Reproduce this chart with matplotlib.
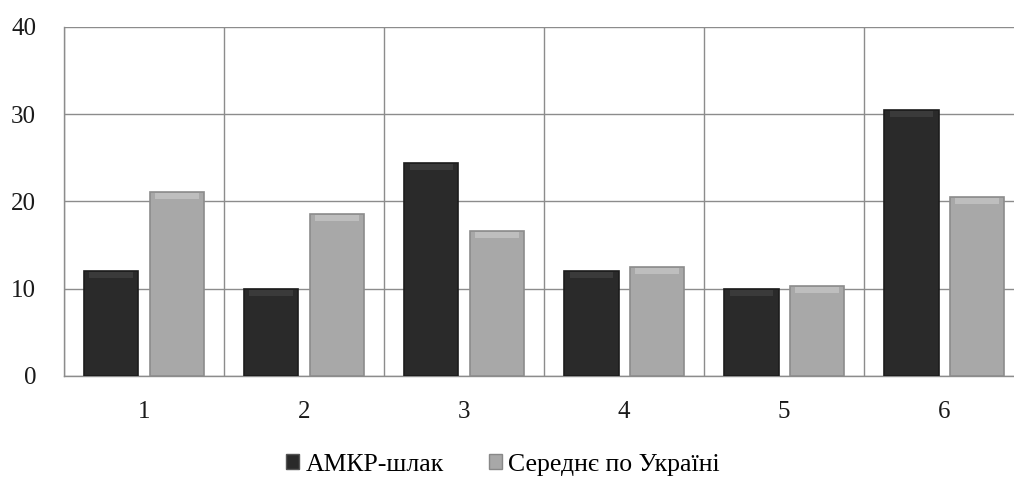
import numpy as np
import matplotlib.pyplot as plt
from matplotlib.patches import Patch

categories = ["1", "2", "3", "4", "5", "6"]
amkr_slag = [12.0, 10.0, 24.4, 12.0, 10.0, 30.5]
ukraine_avg = [21.1, 18.6, 16.6, 12.5, 10.3, 20.5]
series_names = ["АМКР-шлак", "Середнє по Україні"]
y_ticks = [0, 10, 20, 30, 40]

plt.rcParams["font.family"] = ["Liberation Serif", "DejaVu Serif"]

fig = plt.figure(figsize=(10.14, 4.82), dpi=100)
ax = fig.add_axes([0.0631, 0.22, 0.947, 0.724])

x = np.arange(len(categories))
width = 0.34
offset = 0.205

def bevel_bars(xpos, values, face, edge, top):
    bars = ax.bar(xpos, values, width, color=face, edgecolor=edge, linewidth=1.2, zorder=3)
    # soft band along the top for the bevelled look
    ax.bar(xpos, [0.7] * len(values), width * 0.8, bottom=np.array(values) - 0.8,
           color=top, linewidth=0, zorder=4)
    return bars

bevel_bars(x - offset, amkr_slag, "#2a2a2a", "#1c1c1c", "#3a3a3a")
bevel_bars(x + offset, ukraine_avg, "#a8a8a8", "#8c8c8c", "#bebebe")

ax.set_xlim(-0.5, len(categories) - 0.5)
ax.set_ylim(0, 40)
ax.set_yticks(y_ticks)
ax.set_xticks(x)
ax.set_xticklabels(categories)
ax.set_xticks(np.arange(len(categories) + 1) - 0.5, minor=True)

ax.grid(axis="y", color="#8c8c8c", linewidth=1.0, zorder=0)
ax.grid(axis="x", which="minor", color="#8c8c8c", linewidth=1.0, zorder=0)
ax.tick_params(axis="both", which="both", length=0, labelsize=18, colors="#1a1a1a")
ax.tick_params(axis="y", pad=20)
ax.tick_params(axis="x", pad=18)
for side in ["top", "right"]:
    ax.spines[side].set_visible(False)
for side in ["left", "bottom"]:
    ax.spines[side].set_color("#8c8c8c")
    ax.spines[side].set_linewidth(1.0)

handles = [Patch(facecolor="#2a2a2a", edgecolor="#555555"),
           Patch(facecolor="#a8a8a8", edgecolor="#888888")]
fig.legend(handles, series_names, loc="center", bbox_to_anchor=(0.496, 0.036),
           ncol=2, frameon=False, fontsize=18.5, handlelength=0.5, handleheight=0.5,
           handletextpad=0.25, columnspacing=1.75)

fig.savefig("out.png", dpi=100)
